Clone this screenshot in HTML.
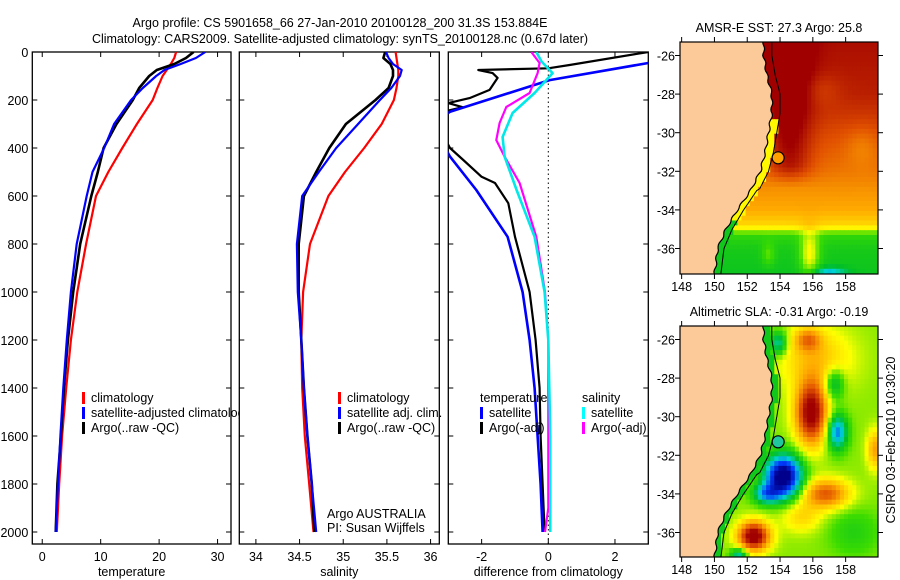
<!DOCTYPE html>
<html><head><meta charset="utf-8"><style>
body{margin:0;background:#fff;}
svg{display:block;font-family:"Liberation Sans",sans-serif;}
text{fill:#000;font-size:12.5px;}
</style></head><body>
<svg id="svg" width="900" height="580" viewBox="0 0 900 580" xmlns="http://www.w3.org/2000/svg">
<text x="340" y="27" text-anchor="middle" font-size="13">Argo profile: CS 5901658_66 27-Jan-2010 20100128_200 31.3S 153.884E</text>
<text x="340" y="43" text-anchor="middle" font-size="13">Climatology: CARS2009. Satellite-adjusted climatology: synTS_20100128.nc (0.67d later)</text>
<g id="g"></g>
</svg>
<script>
// ---------- data ----------
const depthTicks=[0,200,400,600,800,1000,1200,1400,1600,1800,2000];
const profDepths=[0,25,50,75,100,150,200,300,400,500,600,800,1000,1200,1400,1600,1800,2000];
const tempClim=[22.9,22.6,22,21.3,20.6,19.7,18.9,16.2,13.7,11.3,9.2,7.5,6,4.9,4.1,3.4,2.9,2.5];
const tempSat=[27.9,26.3,23.7,20.9,19.5,17.2,15.2,12.3,10.6,8.6,7.6,5.9,4.9,4.2,3.6,3.1,2.7,2.3];
const tempArgo=[25.9,24.6,22.6,19.6,18.3,16.6,15.5,12.7,10.5,9.5,8.4,6.5,5.3,4.4,3.7,3.2,2.6,2.3];
const salClim=[35.60,35.61,35.62,35.63,35.63,35.61,35.58,35.44,35.24,35.02,34.83,34.62,34.54,34.52,34.53,34.56,34.61,34.66];
const salSat=[35.49,35.52,35.57,35.67,35.65,35.55,35.42,35.17,34.92,34.72,34.53,34.47,34.48,34.52,34.55,34.59,34.64,34.69];
const salArgo=[35.48,35.46,35.54,35.57,35.57,35.52,35.37,35.03,34.84,34.69,34.55,34.49,34.49,34.52,34.55,34.59,34.64,34.67];
const dTempSatDepth=[0,46,117,249,300,436,575,770,1000,1200,1400,1600,1800,2000];
const dTempSat=[4.5,3.0,0.04,-2.95,-3.5,-2.95,-2.16,-1.22,-0.77,-0.56,-0.41,-0.32,-0.23,-0.17];
const dTempArgoDepth=[0,54,68,75,88,108,158,192,213,230,260,400,450,520,546,630,770,1000,1200,1400,1600,1800,2000];
const dTempArgo=[3.0,0.64,0,-2.1,-1.67,-1.52,-1.76,-2.36,-3.0,-2.57,-3.5,-2.95,-2.55,-2.0,-1.6,-1.2,-1.0,-0.56,-0.38,-0.26,-0.23,-0.17,-0.11];
const dSalSatDepth=[0,40,88,171,254,354,436,575,770,1000,1200,1400,1600,2000];
const dSalSat=[-0.36,-0.2,0.13,-0.41,-1.07,-1.37,-1.31,-0.95,-0.41,-0.11,0,0.03,0.06,0.06];
const dSalArgoDepth=[0,46,88,171,229,296,367,436,546,770,1000,1200,1900,2000];
const dSalArgo=[-0.51,-0.26,-0.32,-0.56,-1.26,-1.46,-1.56,-1.31,-0.86,-0.36,-0.1,0,0,-0.1];
const tempTicks=[0,10,20,30];
const salTicks=[34,34.5,35,35.5,36];
const diffTicks=[-2,0,2];
const lonTicks=[148,150,152,154,156,158];
const latTicks=[-26,-28,-30,-32,-34,-36];

// ---------- helpers ----------
const NS="http://www.w3.org/2000/svg";
const G=document.getElementById('g');
function mk(tag,attrs,parent){const e=document.createElementNS(NS,tag);for(const k in attrs)e.setAttribute(k,attrs[k]);(parent||G).appendChild(e);return e;}
const PT=52,PB=544,D0=0,D1=2050;
const yD=d=>PT+(d-D0)/(D1-D0)*(PB-PT);

function panel(name,L,R,x0,x1,xticks,xlabel,showY){
  const xs=v=>L+(v-x0)/(x1-x0)*(R-L);
  const g=mk('g',{});
  
  
  const fr=mk('rect',{x:L,y:PT,width:R-L,height:PB-PT,fill:'#fff',stroke:'#000','stroke-width':1.3},g);
  
  depthTicks.forEach(d=>{
    mk('line',{x1:L,x2:L+5,y1:yD(d),y2:yD(d),stroke:'#000'},g);
    mk('line',{x1:R-5,x2:R,y1:yD(d),y2:yD(d),stroke:'#000'},g);
    if(showY){const t=mk('text',{x:L-4,y:yD(d)+5,'text-anchor':'end'},g);t.textContent=d;
      }
  });
  xticks.forEach(v=>{
    mk('line',{x1:xs(v),x2:xs(v),y1:PT,y2:PT+5,stroke:'#000'},g);
    mk('line',{x1:xs(v),x2:xs(v),y1:PB-5,y2:PB,stroke:'#000'},g);
    const t=mk('text',{x:xs(v),y:PB+17,'text-anchor':'middle'},g);t.textContent=v;
    
  });
  const xl=mk('text',{x:(L+R)/2,y:PB+32,'text-anchor':'middle'},g);xl.textContent=xlabel;
  
  const cid='clip-'+name;
  const cp=mk('clipPath',{id:cid},g);mk('rect',{x:L,y:PT,width:R-L,height:PB-PT},cp);
  const sg=mk('g',{'clip-path':'url(#'+cid+')'},g);
  return {xs,g:sg};
}
function series(p,depths,vals,color,name,w){
  const pts=depths.map((d,i)=>p.xs(vals[i]).toFixed(1)+','+yD(d).toFixed(1)).join(' ');
  const e=mk('polyline',{points:pts,fill:'none',stroke:color,'stroke-width':w||2.2,'stroke-linejoin':'round'},p.g);
  
  
}
function legend(x,y,items,nm){
  items.forEach((it,i)=>{
    if(it.c){const m=mk('rect',{x:x,y:y+i*15-10,width:3,height:12,fill:it.c});
      }
    const t=mk('text',{x:x+(it.c?9:0),y:y+i*15});t.textContent=it.t;
    
  });
}

// ---------- profile panels ----------
const p1=panel('temperature-panel',32.3,231,-1.7,32.3,tempTicks,'temperature',true);
series(p1,profDepths,tempClim,'#ff0000','temp-climatology-line');
series(p1,profDepths,tempArgo,'#000000','temp-argo-line',2.6);
series(p1,profDepths,tempSat,'#0000ff','temp-satellite-line');
legend(82,402,[{c:'#f00',t:'climatology'},{c:'#00f',t:'satellite-adjusted climatology'},{c:'#000',t:'Argo(..raw -QC)'}],'temp-legend');

const p2=panel('salinity-panel',239.3,439.3,33.81,36.1,salTicks,'salinity',false);
series(p2,profDepths,salClim,'#ff0000','sal-climatology-line');
series(p2,profDepths,salArgo,'#000000','sal-argo-line',2.6);
series(p2,profDepths,salSat,'#0000ff','sal-satellite-line');
legend(338,402,[{c:'#f00',t:'climatology'},{c:'#00f',t:'satellite adj. clim.'},{c:'#000',t:'Argo(..raw -QC)'}],'sal-legend');
const a1=mk('text',{x:327,y:518});a1.textContent='Argo AUSTRALIA';

const a2=mk('text',{x:327,y:532});a2.textContent='PI: Susan Wijffels';


const p3=panel('difference-panel',448.3,648.3,-3.0,3.0,diffTicks,'difference from climatology',false);
const zl=mk('line',{x1:p3.xs(0),x2:p3.xs(0),y1:PT,y2:PB,stroke:'#000','stroke-dasharray':'1.5,3'},p3.g);

series(p3,dTempArgoDepth,dTempArgo,'#000000','diff-temp-argo-line');
series(p3,dTempSatDepth,dTempSat,'#0000ff','diff-temp-satellite-line',2.6);
series(p3,dSalArgoDepth,dSalArgo,'#ff00ff','diff-sal-argo-line');
series(p3,dSalSatDepth,dSalSat,'#00e8e8','diff-sal-satellite-line',2.6);
legend(480,402,[{t:'temperature'},{c:'#00f',t:'satellite'},{c:'#000',t:'Argo(-adj)'}],'diff-temp-legend');
legend(582,402,[{t:'salinity'},{c:'#0ff',t:'satellite'},{c:'#f0f',t:'Argo(-adj)'}],'diff-sal-legend');

// ---------- maps ----------
const coastLat=[-25.3,-26,-27,-28,-29,-30,-31,-32,-33,-34,-35,-36,-37.4];
const coastLon=[153.0,153.0,153.2,153.5,153.5,153.3,153.1,152.8,152.2,151.4,150.7,150.2,150.0];
function interp(xa,ya,x){
  for(let i=0;i<xa.length-1;i++){if(x<=xa[i]&&x>=xa[i+1]){const t=(x-xa[i])/(xa[i+1]-xa[i]);return ya[i]+t*(ya[i+1]-ya[i]);}}
  return x>xa[0]?ya[0]:ya[ya.length-1];
}
const stops=[[0,[0,0,140]],[0.15,[0,60,255]],[0.3,[0,210,210]],[0.42,[0,190,40]],[0.52,[60,220,0]],[0.62,[255,255,0]],[0.75,[255,170,0]],[0.87,[225,80,0]],[1,[160,0,0]]];
function cmap(v){v=Math.max(0,Math.min(1,v));for(let i=0;i<stops.length-1;i++){if(v<=stops[i+1][0]){const t=(v-stops[i][0])/(stops[i+1][0]-stops[i][0]);const a=stops[i][1],b=stops[i+1][1];return 'rgb('+a.map((c,k)=>Math.round(c+t*(b[k]-c))).join(',')+')';}}return 'rgb(160,0,0)';}
const gs=(x,y,cx,cy,sx,sy)=>Math.exp(-((((x-cx)/sx)**2)+(((y-cy)/sy)**2)));
const sstep=(a,b,x)=>{const t=Math.max(0,Math.min(1,(x-a)/(b-a)));return t*t*(3-2*t);};
function sst(lon,lat){
  let v=interp([-25,-28,-30,-32,-33,-34,-34.8,-35.3,-36,-37.4],[0.98,0.95,0.88,0.82,0.78,0.75,0.68,0.5,0.46,0.44],lat);
  v+=0.14*Math.exp(-(((lon-154.6)/1.3)**2))*sstep(-33,-31.5,lat);
  v-=0.05*gs(lon,lat,156.5,-27.8,1.2,0.8);
  v-=0.05*gs(lon,lat,159,-30.7,1,1);
  v+=0.17*gs(lon,lat,155.8,-36.3,0.6,1.2);
  v+=0.08*gs(lon,lat,153.3,-36.3,0.4,0.6);
  v-=0.3*gs(lon,lat,157,-37.5,1,0.4);
  const c=interp(coastLat,coastLon,lat);
  if(lon<c+0.5&&lat<-29.3) v=Math.min(v,lat<-34.5?0.45:0.63);
  return Math.min(v,1);
}
function sla(lon,lat){
  let v=0.56;
  v+=0.15*gs(lon,lat,156.2,-27,2.2,1.6);
  v+=0.2*gs(lon,lat,155.7,-26,0.8,0.6);
  v+=0.48*gs(lon,lat,155.9,-29.8,0.95,1.6);
  v-=0.65*gs(lon,lat,154.2,-33.1,1.05,1.05);
  v-=0.3*gs(lon,lat,153.2,-34.0,0.8,0.5);
  v-=0.35*gs(lon,lat,157.5,-30.8,0.6,0.9);
  v-=0.2*gs(lon,lat,157.3,-28.3,0.6,0.8);
  v-=0.25*gs(lon,lat,153.9,-26.2,0.5,0.6);
  v+=0.5*gs(lon,lat,152.4,-36.2,0.95,0.75);
  v+=0.3*gs(lon,lat,156.8,-34.0,1.4,0.75);
  v+=0.12*gs(lon,lat,155.3,-35.2,1.2,0.8);
  v-=0.08*gs(lon,lat,158.5,-36,1.5,1.2);
  v+=0.2*gs(lon,lat,159.8,-31.7,0.5,1.0);
  v-=0.25*gs(lon,lat,151.5,-37.2,0.5,0.4);
  const c=interp(coastLat,coastLon,lat);
  if(lon<c+0.35) v=Math.min(v,0.45);
  return v;
}
function drawMap(name,top,bot,title,field,markerColor){
  const L=680,R=878,lon0=147.9,lon1=160.0;
  const lat26=top+13.5,dl=19.3;
  const latTop=-26+(lat26-top)/dl, latBot=-26-(bot-lat26)/dl;
  const X=lon=>L+(lon-lon0)*16.4, Y=lat=>lat26+(-26-lat)*dl;
  const g=mk('g',{});
  const cid='clip-'+name;const cp=mk('clipPath',{id:cid},g);mk('rect',{x:L,y:top,width:R-L,height:bot-top},cp);
  const mg=mk('g',{'clip-path':'url(#'+cid+')'},g);
  const dlon=0.25,dlat=0.25;
  for(let lat=latTop;lat>latBot-dlat;lat-=dlat){for(let lon=lon0;lon<lon1;lon+=dlon){
    mk('rect',{x:X(lon).toFixed(1),y:Y(lat).toFixed(1),width:(dlon*16.4+0.6).toFixed(1),height:(dlat*dl+0.6).toFixed(1),fill:cmap(field(lon+dlon/2,lat-dlat/2))},mg);}}
  let pts=[X(lon0-1)+','+Y(latTop+1)];
  const lats=[];for(let la=latTop+0.5;la>=latBot-0.5;la-=0.1)lats.push(la);
  lats.forEach(la=>pts.push(X(interp(coastLat,coastLon,la)+0.06*Math.sin(la*9)).toFixed(1)+','+Y(la).toFixed(1)));
  pts.push(X(lon0-1)+','+Y(latBot-1));
  const land=mk('polygon',{points:pts.join(' '),fill:'#fbca98',stroke:'#000','stroke-width':1.2},mg);
  
  const shelf=lats.map(la=>X(interp(coastLat,coastLon,la)+(la>-33?0.5:0.38)).toFixed(1)+','+Y(la).toFixed(1)).join(' ');
  const sh=mk('polyline',{points:shelf,fill:'none',stroke:'#000','stroke-width':1},mg);
  
  const mkr=mk('circle',{cx:X(153.884),cy:Y(-31.3),r:6,fill:markerColor,stroke:'#000','stroke-width':1.2},mg);
  
  mk('rect',{x:L,y:top,width:R-L,height:bot-top,fill:'none',stroke:'#000','stroke-width':1.2},g);
  lonTicks.forEach(v=>{mk('line',{x1:X(v),x2:X(v),y1:top-5,y2:top,stroke:'#000'},g);mk('line',{x1:X(v),x2:X(v),y1:bot,y2:bot+5,stroke:'#000'},g);
    const t=mk('text',{x:X(v),y:bot+17,'text-anchor':'middle'},g);t.textContent=v;});
  latTicks.forEach(v=>{mk('line',{x1:L-5,x2:L,y1:Y(v),y2:Y(v),stroke:'#000'},g);mk('line',{x1:R,x2:R+5,y1:Y(v),y2:Y(v),stroke:'#000'},g);
    const t=mk('text',{x:L-5,y:Y(v)+5,'text-anchor':'end'},g);t.textContent=v;});
  const tt=mk('text',{x:(L+R)/2,y:top-10,'text-anchor':'middle','font-size':13},g);tt.textContent=title;
  
}
drawMap('sst-map',42,274,'AMSR-E SST: 27.3 Argo: 25.8',sst,'#ffa000');
drawMap('sla-map',326,557,'Altimetric SLA: -0.31 Argo: -0.19',sla,'#20c8a0');
const cs=mk('text',{x:895,y:440,'text-anchor':'middle',transform:'rotate(-90 895 440)'});
cs.textContent='CSIRO 03-Feb-2010 10:30:20';


</script>
</body></html>
